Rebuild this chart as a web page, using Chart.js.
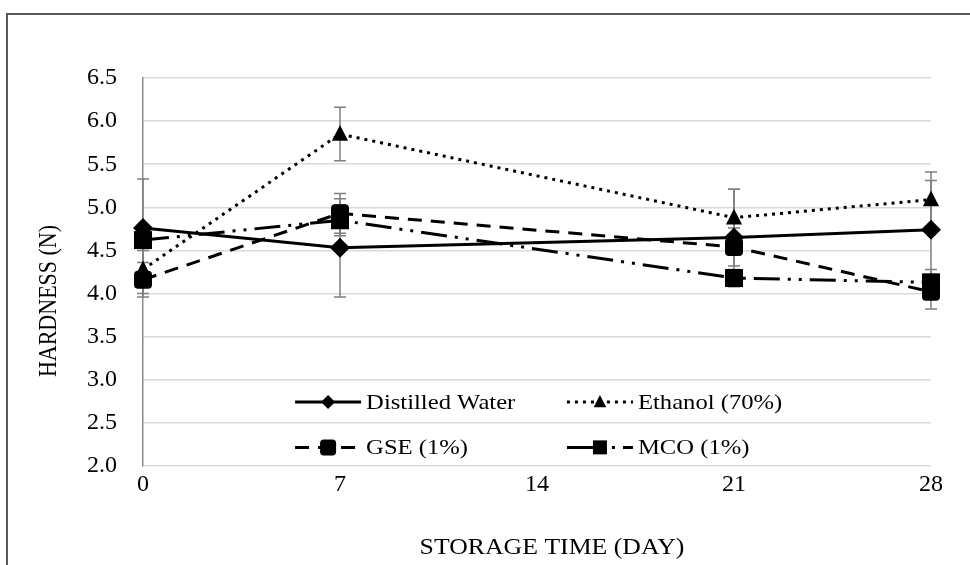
<!DOCTYPE html>
<html>
<head>
<meta charset="utf-8">
<script src="https://cdn.jsdelivr.net/npm/chart.js@4/dist/chart.umd.min.js"></script>
<style>
  html, body { margin: 0; padding: 0; background: #fff; overflow: hidden; }
  #wrap { position: relative; width: 970px; height: 565px; }
  #frame { position: absolute; left: 6px; top: 13px; width: 1100px; height: 700px;
           border-top: 2px solid #595959; border-left: 2px solid #595959; box-sizing: border-box; }
  canvas { position: absolute; left: 0; top: 0; }
</style>
</head>
<body>
<div id="wrap">
  <div id="frame"></div>
  <canvas id="c" width="970" height="565"></canvas>
</div>
<script>
// ---- data ----
const days = [0, 7, 21, 28];
const seriesNames = ["Distilled Water", "Ethanol (70%)", "GSE (1%)", "MCO (1%)"];
const distilledWater = [4.76, 4.53, 4.65, 4.74];
const distilledWaterErr = [0.57, 0.57, 0.56, 0.57];
const ethanol = [4.28, 5.85, 4.88, 5.09];
const ethanolErr = [0.28, 0.31, 0.33, 0.32];
const gse = [4.16, 4.93, 4.54, 4.02];
const gseErr = [0.20, 0.23, 0.22, 0.20];
const mco = [4.62, 4.85, 4.18, 4.13];
const mcoErr = [0.12, 0.18, 0.10, 0.15];
const xTicks = [0, 7, 14, 21, 28];
const yMin = 2.0, yMax = 6.5, yStep = 0.5;
const xTitle = "STORAGE TIME (DAY)";
const yTitle = "HARDNESS (N)";

const FONT = "'Liberation Serif', 'Times New Roman', serif";
const STRETCH = 1.12; // reference text is drawn slightly wide

const styles = [
  { dash: [], marker: 'diamond', r: 10, lr: 7 },
  { dash: [3, 5], marker: 'triangle', r: 9, lr: 7 },
  { dash: [14, 9], marker: 'roundsq', r: 9, lr: 8 },
  { dash: [26, 8, 3, 8, 3, 8], marker: 'square', r: 9, lr: 7 }
];
const values = [distilledWater, ethanol, gse, mco];
const errors = [distilledWaterErr, ethanolErr, gseErr, mcoErr];

function drawMarker(ctx, type, x, y, r) {
  ctx.save();
  ctx.setLineDash([]);
  ctx.fillStyle = '#000';
  ctx.beginPath();
  if (type === 'diamond') {
    ctx.moveTo(x, y - r); ctx.lineTo(x + r, y); ctx.lineTo(x, y + r); ctx.lineTo(x - r, y); ctx.closePath();
  } else if (type === 'triangle') {
    ctx.moveTo(x, y - r); ctx.lineTo(x + r * 0.9, y + r * 0.75); ctx.lineTo(x - r * 0.9, y + r * 0.75); ctx.closePath();
  } else if (type === 'square') {
    ctx.rect(x - r, y - r, 2 * r, 2 * r);
  } else if (type === 'roundsq') {
    const c = r * 0.45;
    ctx.moveTo(x - r + c, y - r); ctx.lineTo(x + r - c, y - r); ctx.quadraticCurveTo(x + r, y - r, x + r, y - r + c);
    ctx.lineTo(x + r, y + r - c); ctx.quadraticCurveTo(x + r, y + r, x + r - c, y + r);
    ctx.lineTo(x - r + c, y + r); ctx.quadraticCurveTo(x - r, y + r, x - r, y + r - c);
    ctx.lineTo(x - r, y - r + c); ctx.quadraticCurveTo(x - r, y - r, x - r + c, y - r);
    ctx.closePath();
  }
  ctx.fill();
  ctx.restore();
}

function wideText(ctx, text, x, y, align) {
  ctx.save();
  ctx.translate(x, y);
  ctx.scale(STRETCH, 1);
  ctx.textAlign = align;
  ctx.fillText(text, 0, 0);
  ctx.restore();
}

const datasets = values.map((vals, i) => ({
  label: seriesNames[i],
  data: days.map((d, k) => ({ x: d, y: vals[k] })),
  borderColor: '#000',
  backgroundColor: '#000',
  borderWidth: 3,
  borderDash: styles[i].dash,
  tension: 0,
  fill: false,
  pointRadius: 0,
  pointHoverRadius: 0,
  errs: errors[i],
  markerType: styles[i].marker,
  markerR: styles[i].r
}));

const errorBarPlugin = {
  id: 'errorBars',
  beforeDatasetsDraw(chart) {
    const { ctx, scales: { x, y } } = chart;
    ctx.save();
    ctx.strokeStyle = '#7f7f7f';
    ctx.lineWidth = 1.5;
    ctx.setLineDash([]);
    chart.data.datasets.forEach(ds => {
      ds.data.forEach((p, k) => {
        const e = ds.errs[k];
        const px = x.getPixelForValue(p.x);
        const top = y.getPixelForValue(p.y + e);
        const bot = y.getPixelForValue(p.y - e);
        ctx.beginPath();
        ctx.moveTo(px, top); ctx.lineTo(px, bot);
        ctx.moveTo(px - 6, top); ctx.lineTo(px + 6, top);
        ctx.moveTo(px - 6, bot); ctx.lineTo(px + 6, bot);
        ctx.stroke();
      });
    });
    ctx.restore();
  },
  afterDatasetsDraw(chart) {
    const { ctx, scales: { x, y } } = chart;
    chart.data.datasets.forEach(ds => {
      ds.data.forEach(p => {
        drawMarker(ctx, ds.markerType, x.getPixelForValue(p.x), y.getPixelForValue(p.y), ds.markerR);
      });
    });
  }
};

const legendPlugin = {
  id: 'innerLegend',
  afterDraw(chart) {
    const { ctx, chartArea: a } = chart;
    const w = a.right - a.left, h = a.bottom - a.top;
    const cols = [a.left + 0.193 * w, a.left + 0.538 * w];
    const rows = [a.top + 0.835 * h, a.top + 0.952 * h];
    ctx.save();
    ctx.font = `22px ${FONT}`;
    ctx.textBaseline = 'middle';
    ctx.fillStyle = '#000';
    seriesNames.forEach((name, i) => {
      const sx = cols[i % 2], sy = rows[Math.floor(i / 2)];
      const len = 66;
      ctx.strokeStyle = '#000';
      ctx.lineWidth = 3;
      ctx.setLineDash(styles[i].dash);
      ctx.beginPath();
      ctx.moveTo(sx, sy); ctx.lineTo(sx + len, sy);
      ctx.stroke();
      drawMarker(ctx, styles[i].marker, sx + len / 2, sy, styles[i].lr);
      ctx.setLineDash([]);
      wideText(ctx, name, sx + len + 5, sy + 1, 'left');
    });
    ctx.restore();
  }
};

const titlePlugin = {
  id: 'axisTitles',
  afterDraw(chart) {
    const { ctx, chartArea: a } = chart;
    ctx.save();
    ctx.font = `23px ${FONT}`;
    ctx.fillStyle = '#000';
    ctx.textBaseline = 'middle';
    wideText(ctx, xTitle, (a.left + a.right) / 2 + 15, 548, 'center');
    ctx.font = `22px ${FONT}`;
    ctx.translate(50, (a.top + a.bottom) / 2 + 29);
    ctx.scale(STRETCH, 1);
    ctx.rotate(-Math.PI / 2);
    ctx.textAlign = 'center';
    ctx.fillText(yTitle, 0, 0);
    ctx.restore();
  }
};

new Chart(document.getElementById('c'), {
  type: 'line',
  data: { datasets },
  options: {
    responsive: false,
    animation: false,
    events: [],
    layout: { padding: { top: 78, right: 39, left: 0, bottom: 0 } },
    plugins: { legend: { display: false }, tooltip: { enabled: false }, title: { display: false } },
    scales: {
      x: {
        type: 'linear',
        min: 0, max: 28,
        afterBuildTicks: s => { s.ticks = xTicks.map(v => ({ value: v })); },
        afterFit: s => { s.height = 99; },
        grid: { display: false },
        border: { display: false },
        ticks: { color: '#000', font: { family: FONT, size: 24 }, padding: -4, maxRotation: 0 }
      },
      y: {
        type: 'linear',
        min: yMin, max: yMax,
        ticks: {
          stepSize: yStep,
          color: '#000',
          font: { family: FONT, size: 24 },
          padding: 26,
          callback: v => v.toFixed(1)
        },
        afterFit: s => { s.width = 143; },
        grid: { color: '#d9d9d9', lineWidth: 1.5, drawTicks: false },
        border: { display: true, color: '#8c8c8c', width: 1.5 }
      }
    }
  },
  plugins: [errorBarPlugin, legendPlugin, titlePlugin]
});
</script>
</body>
</html>
